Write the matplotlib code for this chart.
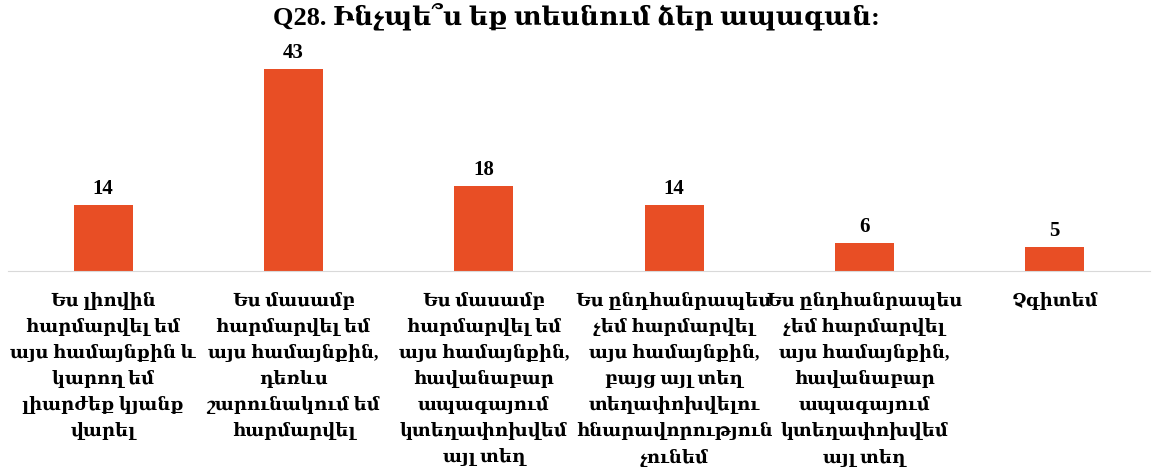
import matplotlib.pyplot as plt

fonts = ['Liberation Serif', 'DejaVu Serif', 'DejaVu Sans']
plt.rcParams['font.family'] = fonts

title = 'Q28. Ինչպե՞ս եք տեսնում ձեր ապագան:'
labels = [
    'Ես լիովին\nհարմարվել եմ\nայս համայնքին և\nկարող եմ\nլիարժեք կյանք\nվարել',
    'Ես մասամբ\nհարմարվել եմ\nայս համայնքին,\nդեռևս\nշարունակում եմ\nհարմարվել',
    'Ես մասամբ\nհարմարվել եմ\nայս համայնքին,\nհավանաբար\nապագայում\nկտեղափոխվեմ\nայլ տեղ',
    'Ես ընդհանրապես\nչեմ հարմարվել\nայս համայնքին,\nբայց այլ տեղ\nտեղափոխվելու\nհնարավորություն\nչունեմ',
    'Ես ընդհանրապես\nչեմ հարմարվել\nայս համայնքին,\nհավանաբար\nապագայում\nկտեղափոխվեմ\nայլ տեղ',
    'Չգիտեմ',
]
values = [14, 43, 18, 14, 6, 5]

fig = plt.figure(figsize=(11.52, 4.68), dpi=100)
ax = fig.add_axes([0.007, 0.421, 0.991, 0.502])
x = range(len(values))
bars = ax.bar(x, values, width=0.31, color='#E84E25')
for xi, v in zip(x, values):
    ax.text(xi, v + 1.3, str(v), ha='center', va='bottom', fontsize=15, fontweight='bold')

ax.set_xlim(-0.5, len(values) - 0.5)
ax.set_ylim(0, 50)
ax.set_xticks(list(x))
ax.set_xticklabels(labels, fontsize=13, fontweight='bold', va='top', linespacing=1.58)
ax.tick_params(axis='x', length=0, pad=15)
ax.set_yticks([])
for s in ['top', 'right', 'left']:
    ax.spines[s].set_visible(False)
ax.spines['bottom'].set_color('#D9D9D9')
fig.suptitle(title, fontsize=19, fontweight='bold', y=0.995)

plt.savefig('out.png', dpi=100)
